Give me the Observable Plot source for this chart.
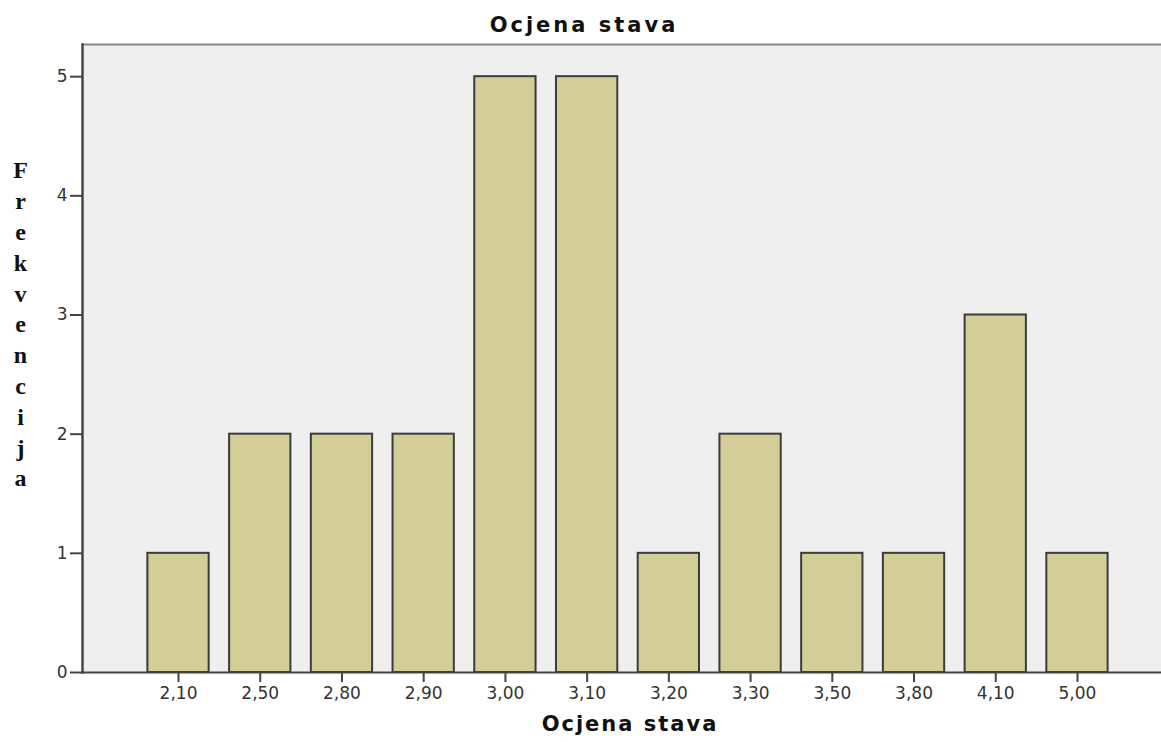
<!DOCTYPE html>
<html>
<head>
<meta charset="utf-8">
<script src="https://cdn.jsdelivr.net/npm/d3@7"></script>
<script src="https://cdn.jsdelivr.net/npm/@observablehq/plot@0.6"></script>
<style>
  html, body { margin: 0; padding: 0; background: #fff; overflow: hidden; }
  #title { height: 40px; box-sizing: border-box; padding-top: 12px; padding-left: 7px;
    font: bold 21px "DejaVu Sans", sans-serif; letter-spacing: 3px; line-height: 26px;
    text-align: center; color: #111; }
</style>
</head>
<body>
<div id="title">Ocjena stava</div>
<div id="chart"></div>
<script>
const categories = ["2,10","2,50","2,80","2,90","3,00","3,10","3,20","3,30","3,50","3,80","4,10","5,00"];
const counts = [1,2,2,2,5,5,1,2,1,1,3,1];
const yTicks = [0,1,2,3,4,5];
const titleText = "Ocjena stava";
const xLabel = "Ocjena stava";
const yLabel = "Frekvencija";

const data = categories.map((c, i) => ({cat: c, n: counts[i]}));

const plot = Plot.plot({
  width: 1161,
  height: 702,
  marginTop: 4,
  marginBottom: 70,
  marginLeft: 82,
  marginRight: 0,
  style: {fontFamily: "'DejaVu Sans', sans-serif", background: "#fff", overflow: "visible"},
  x: {type: "band", domain: categories, range: [82, 1173], paddingInner: 0.25, paddingOuter: 0.8, round: false},
  y: {domain: [0, 5.27]},
  marks: [
    Plot.frame({fill: "#efefef", stroke: null}),
    Plot.frame({anchor: "top", stroke: "#8a8a8a", strokeWidth: 2}),
    Plot.barY(data, {x: "cat", y: "n", fill: "#d3ce97", stroke: "#3c3c3c", strokeWidth: 2}),
    Plot.frame({anchor: "left", stroke: "#444", strokeWidth: 2.5}),
    Plot.ruleY([0], {stroke: "#444", strokeWidth: 2}),
    Plot.axisY({ticks: yTicks, tickSize: 12, tickPadding: 3, fontSize: 17, fill: "#333", stroke: "#444", strokeWidth: 2, label: null, tickFormat: d => String(d)}),
    Plot.axisX({tickSize: 10, tickPadding: 4, fontSize: 17, fill: "#333", stroke: "#444", strokeWidth: 2, label: null}),
    Plot.text([xLabel], {frameAnchor: "bottom", dx: 8, dy: 58, fontSize: 21, fontWeight: "bold", fill: "#111"}),
    Plot.text([yLabel.split("").join("\n")], {frameAnchor: "left", dx: -62, dy: -36, fontSize: 24, fontWeight: "bold", fill: "#111", lineHeight: 1.283, fontFamily: "'Liberation Serif', serif", textAnchor: "middle"})
  ]
});
d3.select(plot).selectAll("text")
  .filter(function() { return this.textContent === xLabel; })
  .style("letter-spacing", "2px");
document.getElementById("chart").appendChild(plot);
</script>
</body>
</html>
